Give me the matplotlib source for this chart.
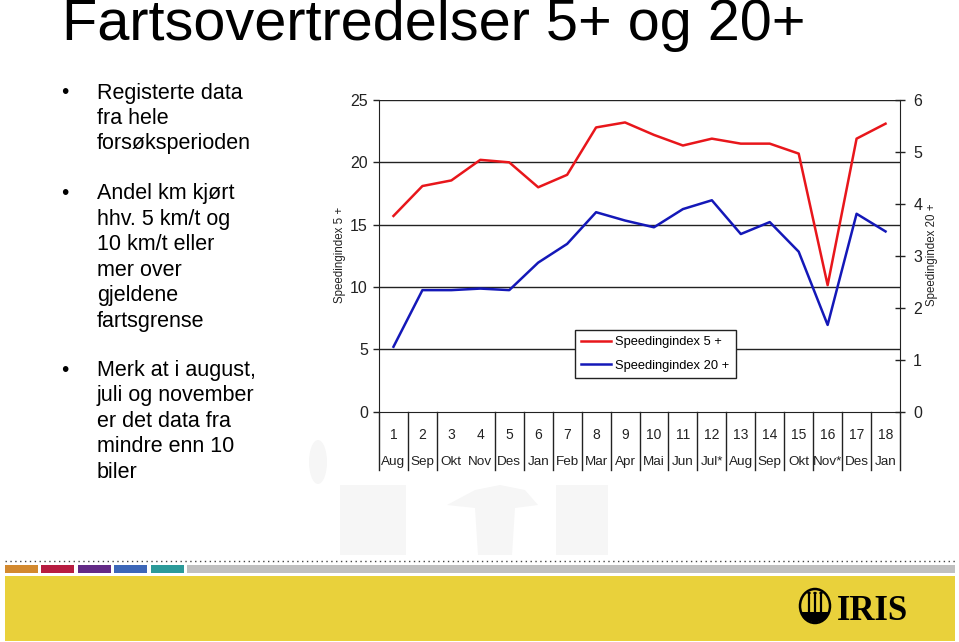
import matplotlib
matplotlib.use("Agg")
import matplotlib.pyplot as plt
from matplotlib.patches import Rectangle, Circle, Ellipse, Polygon
from matplotlib.lines import Line2D
import matplotlib.transforms as mtransforms

# ---- data ----
periods = ["1", "2", "3", "4", "5", "6", "7", "8", "9", "10", "11", "12", "13", "14", "15", "16", "17", "18"]
months = ["Aug", "Sep", "Okt", "Nov", "Des", "Jan", "Feb", "Mar", "Apr", "Mai", "Jun", "Jul*",
          "Aug", "Sep", "Okt", "Nov*", "Des", "Jan"]
speeding_5 = [15.7, 18.1, 18.55, 20.2, 20.0, 18.0, 19.0, 22.8, 23.2, 22.2, 21.35, 21.9,
              21.5, 21.5, 20.7, 10.15, 21.9, 23.1]
speeding_20 = [1.25, 2.34, 2.34, 2.37, 2.34, 2.87, 3.23, 3.84, 3.68, 3.55, 3.90, 4.07,
               3.42, 3.65, 3.08, 1.67, 3.81, 3.47]
left_ticks = [0, 5, 10, 15, 20, 25]
right_ticks = [0, 1, 2, 3, 4, 5, 6]
label_5 = "Speedingindex 5 +"
label_20 = "Speedingindex 20 +"
title = "Fartsovertredelser 5+ og 20+"
bullets = [
    ["Registerte data", "fra hele", "forsøksperioden"],
    ["Andel km kjørt", "hhv. 5 km/t og", "10 km/t eller", "mer over", "gjeldene", "fartsgrense"],
    ["Merk at i august,", "juli og november", "er det data fra", "mindre enn 10", "biler"],
]

W, H = 959, 642
plt.rcParams['font.family'] = ['Liberation Sans', 'DejaVu Sans']
fig = plt.figure(figsize=(W / 100, H / 100), dpi=100)
fig.patch.set_facecolor("white")


def fx(px):
    return px / W


def fy(py):
    return 1 - py / H


# ---- faint watermark silhouettes ----
wm = "#f6f6f6"
fig.patches.append(Ellipse((fx(318), fy(462)), 18 / W, 44 / H, transform=fig.transFigure,
                           facecolor=wm, edgecolor="none", zorder=0))
fig.patches.append(Rectangle((fx(340), fy(555)), 66 / W, 70 / H, transform=fig.transFigure,
                             facecolor=wm, edgecolor="none", zorder=0))
fig.patches.append(Polygon([(fx(447), fy(505)), (fx(475), fy(490)), (fx(500), fy(485)),
                            (fx(525), fy(490)), (fx(538), fy(505)), (fx(515), fy(508)),
                            (fx(512), fy(555)), (fx(478), fy(555)), (fx(475), fy(508))],
                           closed=True, transform=fig.transFigure,
                           facecolor=wm, edgecolor="none", zorder=0))
fig.patches.append(Rectangle((fx(556), fy(555)), 52 / W, 70 / H, transform=fig.transFigure,
                             facecolor=wm, edgecolor="none", zorder=0))

# ---- title ----
fig.text(fx(62), fy(40.5), title, fontsize=41.5, ha="left", va="baseline", color="black")

# ---- bullets ----
line_h = 25.5
y = 98.5
for para in bullets:
    fig.text(fx(61), fy(y), "•", fontsize=15, ha="left", va="baseline", color="black")
    for ln in para:
        fig.text(fx(97), fy(y), ln, fontsize=15.5, ha="left", va="baseline", color="black")
        y += line_h
    y += 24

# ---- chart ----
x0, x1, ytop, ybot = 379, 900, 100, 411.7
ax = fig.add_axes([fx(x0), fy(ybot), (x1 - x0) / W, (ybot - ytop) / H])
ax2 = ax.twinx()
xs = list(range(1, len(periods) + 1))

l1, = ax.plot(xs, speeding_5, color="#e8161b", lw=1.8, zorder=3)
l2, = ax2.plot(xs, speeding_20, color="#1418b8", lw=1.8, zorder=3)

ax.set_xlim(0.5, len(periods) + 0.5)
ax.set_ylim(0, 25)
ax2.set_ylim(0, 6)
ax.set_yticks(left_ticks)
ax2.set_yticks(right_ticks)
ax.set_xticks([])
for g in left_ticks[1:]:
    ax.axhline(g, color="#222222", lw=1.0, zorder=1)

for s in ["top", "right"]:
    ax.spines[s].set_visible(False)
for s in ["top", "left", "bottom"]:
    ax2.spines[s].set_visible(False)
ax.spines["left"].set_color("#222222")
ax.spines["bottom"].set_color("#222222")
ax2.spines["right"].set_color("#222222")
ax.tick_params(axis="y", direction="out", length=4, width=1, pad=4, labelsize=11.5,
               colors="#222222", labelcolor="#222222")
ax2.tick_params(axis="y", direction="inout", length=7, width=1, pad=6, labelsize=11.5,
                colors="#222222", labelcolor="#222222")
ax.patch.set_alpha(0)

# category table below the axis
trans = mtransforms.blended_transform_factory(ax.transData, ax.transAxes)
table_bottom = -(470 - ybot) / (ybot - ytop)
for k in range(len(periods) + 1):
    if k == 3:
        continue
    ax.plot([k + 0.5, k + 0.5], [0, table_bottom], transform=trans, color="#222222",
            lw=1.0, clip_on=False)
for xv, p, m in zip(xs, periods, months):
    ax.text(xv, -(435 - ybot) / (ybot - ytop), p, transform=trans, ha="center", va="center",
            fontsize=10, color="#222222")
    ax.text(xv, -(462 - ybot) / (ybot - ytop), m, transform=trans, ha="center", va="center",
            fontsize=9.7, color="#222222")

# axis titles
fig.text(fx(340), fy(255), label_5, rotation=90, ha="center", va="center", fontsize=8.3,
         color="#222222")
fig.text(fx(932), fy(255), label_20, rotation=90, ha="center", va="center", fontsize=8.3,
         color="#222222")

# legend
leg = ax2.legend([l1, l2], [label_5, label_20], loc="upper left",
                 bbox_to_anchor=(fx(575), fy(330)), bbox_transform=fig.transFigure,
                 frameon=True, fancybox=False, edgecolor="#222222", facecolor="white",
                 framealpha=1, fontsize=9.3, handlelength=2.3, handletextpad=0.3,
                 borderpad=0.5, labelspacing=0.85, borderaxespad=0)
leg.get_frame().set_linewidth(1.0)

# ---- footer ----
fig.lines.append(Line2D([fx(5), fx(955)], [fy(560.7), fy(560.7)], transform=fig.transFigure,
                        color="#444444", lw=1.0, linestyle=(0, (1, 2.5))))
bar_colors = ["#d3892e", "#b71c40", "#632a86", "#3d67b8", "#2c9a99"]
bar_x = [(5, 38.3), (41, 74), (77.7, 111), (114, 147), (150.7, 183.7)]
for c, (a, b) in zip(bar_colors, bar_x):
    fig.patches.append(Rectangle((fx(a), fy(573.3)), (b - a) / W, 8.3 / H,
                                 transform=fig.transFigure, facecolor=c, edgecolor="none"))
fig.patches.append(Rectangle((fx(186.7), fy(573.3)), (955 - 186.7) / W, 8.3 / H,
                             transform=fig.transFigure, facecolor="#c0c0c0", edgecolor="none"))
fig.patches.append(Rectangle((fx(5), fy(640.5)), 950 / W, 64.5 / H,
                             transform=fig.transFigure, facecolor="#e9d13b", edgecolor="none"))

# IRIS logo
fig.patches.append(Ellipse((fx(815), fy(606)), 30 / W, 34 / H, transform=fig.transFigure,
                           facecolor="none", edgecolor="black", lw=1.8))
fig.patches.append(Polygon([(fx(801), fy(612)), (fx(829), fy(612)), (fx(826), fy(619)),
                            (fx(815), fy(623)), (fx(804), fy(619))], closed=True,
                           transform=fig.transFigure, facecolor="black", edgecolor="none"))
for dx in (-6, 0, 6):
    fig.lines.append(Line2D([fx(815 + dx), fx(815 + dx)], [fy(594), fy(613)],
                            transform=fig.transFigure, color="black", lw=1.6))
    fig.patches.append(Circle((fx(815 + dx), fy(593)), 1.8 / W, transform=fig.transFigure,
                              facecolor="black", edgecolor="none"))
fig.text(fx(837), fy(620), "IRIS", fontsize=25, fontweight="bold",
         family=["Liberation Serif", "DejaVu Serif"], ha="left", va="baseline", color="black")

fig.savefig("out.png", dpi=100, facecolor="white")
